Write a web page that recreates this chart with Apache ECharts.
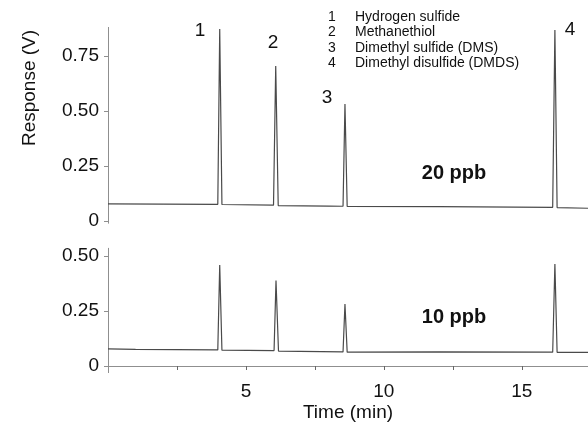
<!DOCTYPE html>
<html>
<head>
<meta charset="utf-8">
<script src="https://cdn.jsdelivr.net/npm/echarts@6/dist/echarts.min.js"></script>
<style>
  html, body { margin: 0; padding: 0; background: #fff; }
  #chart { width: 588px; height: 429px; }
</style>
</head>
<body>
<div id="chart"></div>
<script>
// chromatogram traces: [time (min), response (V)]
const trace20 = [
  [0, 0.078], [2.0, 0.077], [3.98, 0.076], [4.05, 0.873], [4.13, 0.075],
  [6.0, 0.072], [6.08, 0.705], [6.17, 0.070], [8.0, 0.068], [8.52, 0.067],
  [8.59, 0.532], [8.67, 0.066], [12.0, 0.065], [16.12, 0.062], [16.2, 0.868],
  [16.28, 0.061], [17.4, 0.058]
]
const trace10 = [
  [0, 0.078], [1.0, 0.076], [3.98, 0.073], [4.05, 0.459], [4.13, 0.072],
  [6.02, 0.070], [6.09, 0.388], [6.18, 0.068], [8.52, 0.064], [8.59, 0.282],
  [8.67, 0.063], [12.0, 0.064], [16.12, 0.063], [16.2, 0.464], [16.28, 0.062],
  [17.4, 0.062]
]
const peakNames = ['Hydrogen sulfide', 'Methanethiol', 'Dimethyl sulfide (DMS)', 'Dimethyl disulfide (DMDS)']
const topTicks = [0, 0.25, 0.5, 0.75]
const bottomTicks = [0, 0.25, 0.5]
const timeTicks = [2.5, 5, 7.5, 10, 12.5, 15]
const timeLabels = [5, 10, 15]

const font = "'Liberation Sans', Arial, sans-serif"
const axisGray = '#8f8f8f'
const traceColor = '#4a4a4a'

function yAxisFor(grid, min, max, ticks) {
  return {
    type: 'value', gridIndex: grid, min: min, max: max,
    axisLine: { show: true, lineStyle: { color: axisGray, width: 1 } },
    axisTick: { show: true, length: 4, customValues: ticks, lineStyle: { color: axisGray } },
    axisLabel: {
      customValues: ticks, margin: 9, fontSize: 19, color: '#111', fontFamily: font,
      formatter: v => v === 0 ? '0' : v.toFixed(2)
    },
    splitLine: { show: false }
  }
}

function txt(x, y, s, size, extra) {
  return Object.assign({
    type: 'text', x: x, y: y,
    style: { text: s, font: size + 'px ' + font, fill: '#111', align: 'center', verticalAlign: 'middle' }
  }, extra || {})
}

const chart = echarts.init(document.getElementById('chart'))

// legend list, top right
const legendText = []
peakNames.forEach((n, i) => {
  legendText.push(txt(332, 17 + i * 15.5, String(i + 1), 14))
  const t = txt(355, 17 + i * 15.5, n, 14)
  t.style.align = 'left'
  legendText.push(t)
})

chart.setOption({
  animation: false,
  grid: [
    { left: 108, right: 0, top: 27.4, height: 195.8 },
    { left: 108, right: 0, top: 248.3, height: 124.3 }
  ],
  xAxis: [
    { type: 'value', gridIndex: 0, min: 0, max: 17.4, show: false },
    {
      type: 'value', gridIndex: 1, min: 0, max: 17.4,
      name: 'Time (min)', nameLocation: 'middle', nameGap: 31,
      nameTextStyle: { fontSize: 19, color: '#111', fontFamily: font },
      axisLine: { show: true, lineStyle: { color: axisGray, width: 1 } },
      axisTick: { show: true, length: 4, customValues: timeTicks, lineStyle: { color: '#666' } },
      axisLabel: { customValues: timeLabels, margin: 10, fontSize: 19, color: '#111', fontFamily: font },
      splitLine: { show: false }
    }
  ],
  yAxis: [
    yAxisFor(0, -0.01, 0.88, topTicks),
    yAxisFor(1, -0.03, 0.535, bottomTicks)
  ],
  graphic: [
    txt(30, 88, 'Response (V)', 19, { rotation: Math.PI / 2 }),
    txt(200, 31, '1', 19),
    txt(273, 43, '2', 19),
    txt(327, 98, '3', 19),
    txt(570, 30, '4', 19),
    txt(454, 173, '20 ppb', 'bold 20'),
    txt(454, 317, '10 ppb', 'bold 20')
  ].concat(legendText),
  series: [
    {
      type: 'line', xAxisIndex: 0, yAxisIndex: 0, data: trace20,
      showSymbol: false, lineStyle: { color: traceColor, width: 1.2 }
    },
    {
      type: 'line', xAxisIndex: 1, yAxisIndex: 1, data: trace10,
      showSymbol: false, lineStyle: { color: traceColor, width: 1.2 }
    }
  ]
})
</script>
</body>
</html>
